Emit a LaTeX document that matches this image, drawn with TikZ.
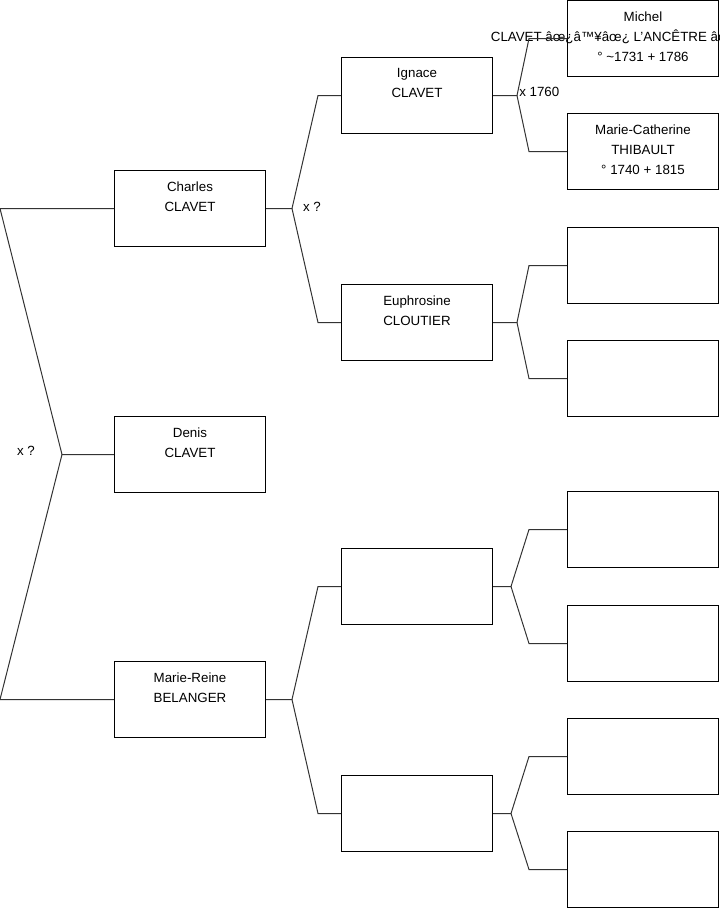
\documentclass[tikz,border=0pt]{standalone}
\usepackage{fontspec}
\setmainfont{Liberation Sans}
\usetikzlibrary{positioning,calc}
\tikzset{
  person/.style={rectangle, draw=black, line width=0.75pt, fill=white, anchor=north west,
                 minimum width=113.25pt, minimum height=57pt, inner sep=0pt},
  ptext/.style={align=center, inner sep=0pt, font=\fontsize{10}{15}\selectfont},
  link/.style={draw=black!80, line width=0.75pt},
  wed/.style={inner sep=0pt, font=\fontsize{10}{12}\selectfont}
}
\begin{document}
\begin{tikzpicture}[x=0.75pt, y=-0.75pt]
\useasboundingbox (0,0) rectangle (719,908);
% ---- Generation 1 ----
\node[person] (charles) at (114,170) {};
\node[person] (denis) at (114,416) {};
\node[person] (reine) at (114,661) {};
\node[ptext, below=8.5pt of charles.north] (tcharles) {Charles\\CLAVET};
\node[ptext, below=8.5pt of denis.north] (tdenis) {Denis\\CLAVET};
\node[ptext, below=8.5pt of reine.north] (treine) {Marie-Reine\\BELANGER};
% ---- Generation 2 ----
\node[person] (ignace) at (341,57) {};
\node[person] (euphro) at (341,284) {};
\node[person] (pc) at (341,548) {};
\node[person] (pd) at (341,775) {};
\node[ptext, below=8.5pt of ignace.north] (tignace) {Ignace\\CLAVET};
\node[ptext, below=8.5pt of euphro.north] (teuphro) {Euphrosine\\CLOUTIER};
% ---- Generation 3 ----
\node[person] (michel) at (567,0) {};
\node[person] (mcath) at (567,113) {};
\node[person] (gc) at (567,227) {};
\node[person] (gd) at (567,340) {};
\node[person] (ge) at (567,491) {};
\node[person] (gf) at (567,605) {};
\node[person] (gg) at (567,718) {};
\node[person] (gh) at (567,831) {};
\node[ptext, below=8.5pt of michel.north] (tmichel) {Michel\\CLAVET âœ¿â™¥âœ¿ L'ANCÊTRE âœ¿â™¥âœ¿\\° \textasciitilde1731 + 1786};
\node[ptext, below=8.5pt of mcath.north] (tmcath) {Marie-Catherine\\THIBAULT\\° 1740 + 1815};
% ---- junctions ----
\coordinate (j0) at ($(denis.west)+(-52,0)$);
\coordinate (j1) at ($(charles.east)+(26,0)$);
\coordinate (j2) at ($(reine.east)+(26,0)$);
\coordinate (j3) at ($(ignace.east)+(24,0)$);
\coordinate (j4) at ($(euphro.east)+(24,0)$);
\coordinate (j5) at ($(pc.east)+(18,0)$);
\coordinate (j6) at ($(pd.east)+(18,0)$);
% ---- connectors ----
\draw[link] (denis.west) -- (j0) -- ($(charles.west)+(-114,0)$) -- (charles.west);
\draw[link] (j0) -- ($(reine.west)+(-114,0)$) -- (reine.west);
\draw[link] (charles.east) -- (j1) -- ($(ignace.west)+(-23,0)$) -- (ignace.west);
\draw[link] (j1) -- ($(euphro.west)+(-23,0)$) -- (euphro.west);
\draw[link] (reine.east) -- (j2) -- ($(pc.west)+(-23,0)$) -- (pc.west);
\draw[link] (j2) -- ($(pd.west)+(-23,0)$) -- (pd.west);
\draw[link] (ignace.east) -- (j3) -- ($(michel.west)+(-38,0)$) -- (michel.west);
\draw[link] (j3) -- ($(mcath.west)+(-38,0)$) -- (mcath.west);
\draw[link] (euphro.east) -- (j4) -- ($(gc.west)+(-38,0)$) -- (gc.west);
\draw[link] (j4) -- ($(gd.west)+(-38,0)$) -- (gd.west);
\draw[link] (pc.east) -- (j5) -- ($(ge.west)+(-38,0)$) -- (ge.west);
\draw[link] (j5) -- ($(gf.west)+(-38,0)$) -- (gf.west);
\draw[link] (pd.east) -- (j6) -- ($(gg.west)+(-38,0)$) -- (gg.west);
\draw[link] (j6) -- ($(gh.west)+(-38,0)$) -- (gh.west);
% ---- marriages ----
\node[wed] (w0) at (26,451) {x ?};
\node[wed] (w1) at (312,207) {x ?};
\node[wed, anchor=west] (w3) at (519,92) {x 1760};
\end{tikzpicture}
\end{document}
